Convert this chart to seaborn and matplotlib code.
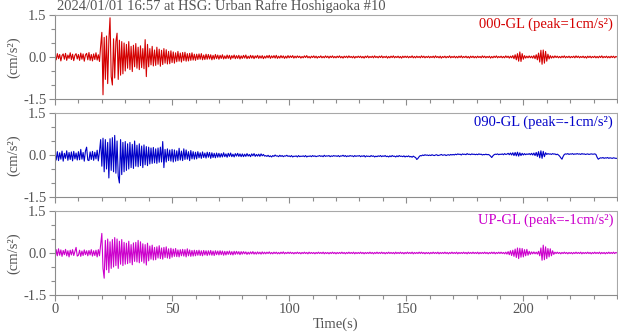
import numpy as np
import pandas as pd
import matplotlib
matplotlib.use("Agg")
import matplotlib.pyplot as plt
import seaborn as sns

# ---------------- data (acceleration, units of 0.01 cm/s^2, dt = 0.5 s) ----------------
dt = 0.5
ns_vals = [
    8,-10,12,-6,9,-14,5,11,-8,13,-12,7,-5,15,-9,10,-13,6,12,-7,
    9,-12,14,-8,11,-15,7,13,-10,16,-12,9,-14,11,-9,15,-11,8,-16,40,
    88,-135,70,-80,75,-95,60,140,-70,-100,65,-75,55,85,-80,60,-65,55,-60,50,
    -50,45,-40,55,-45,38,-52,42,-35,48,-40,35,-45,40,-38,30,-42,62,-70,45,
    -35,30,-28,38,-32,25,-30,35,-26,28,-33,24,-27,30,-22,26,-25,20,-24,22,
    -20,18,-22,15,-17,20,-15,14,-18,16,-13,17,-15,12,-14,13,-12,15,-11,10,
    -12,10,-9,11,-8,12,-10,7,-9,10,-8,9,-7,8,-10,6,-8,9,-6,7,
    -8,6,-5,8,-7,4,-6,7,-5,6,-8,5,-4,7,-6,5,-5,6,-7,4,
    -5,6,-4,7,-6,3,-5,6,-4,5,-6,4,-3,6,-5,4,-4,5,-6,3,
    -4,5,-3,6,-5,4,-3,5,-4,6,-5,3,-4,5,-3,4,-5,3,-4,5,
    -3,4,-2,5,-4,3,-3,4,-2,3,-4,2,-3,4,-2,5,-3,2,-4,3,
    -2,4,-3,3,-4,2,-2,4,-3,2,-3,4,-2,3,-4,3,-2,4,-3,2,
    -3,3,-2,4,-3,2,-4,3,-2,3,-3,4,-2,2,-3,3,-4,2,-2,3,
    -2,3,-3,2,-4,3,-2,4,-3,2,-2,3,-3,4,-2,2,-3,3,-2,4,
    -3,2,-2,3,-4,2,-3,3,-2,4,-3,2,-2,3,-3,2,-4,3,-2,3,
    -2,3,-3,2,-2,4,-3,2,-3,3,-2,2,-3,4,-2,3,-3,2,-2,3,
    -3,2,-2,3,-3,4,-2,2,-3,3,-4,2,-2,3,-3,2,-2,4,-3,2,
    -2,3,-3,2,-3,3,-2,4,-3,2,-2,3,-3,2,-4,3,-2,3,-3,2,
    -3,3,-2,2,-3,4,-2,3,-3,2,-2,3,-4,2,-3,3,-2,4,-3,2,
    -2,3,-3,2,-3,4,-2,3,-4,3,-3,5,-6,8,-10,12,-15,18,-16,12,
    -8,5,-4,3,-3,4,-3,3,-4,5,-6,8,-10,14,-18,24,-26,25,-22,20,
    -15,10,-7,5,-4,3,-3,4,-2,3,-3,2,-3,3,-2,4,-3,2,-2,3,
    -3,2,-2,3,-3,4,-2,3,-3,2,-2,3,-3,2,-4,3,-2,3,-3,2,
    -2,3,-3,2,-3,3,-2,4,-3,2,-2,3,-3,2,-3,3,-2,3,-3,2,
    0,
]
ew_vals = [
    10,-18,12,-20,8,-15,14,-22,6,-12,15,-19,9,-16,11,-21,13,-14,7,-18,
    12,-17,20,-15,9,-22,14,28,-18,-20,11,-16,13,-19,10,-14,17,-21,12,55,
    -40,60,-60,55,-50,45,-82,58,-55,62,-60,70,-65,50,-75,-100,55,-70,45,-60,
    48,-55,40,-50,45,-45,38,-48,50,-40,35,-42,40,-38,32,-45,36,-35,30,-38,
    28,-32,25,-30,27,-28,22,-30,25,-26,28,-25,48,-45,20,-25,22,-20,18,-22,
    20,-25,18,-22,15,-20,24,-18,14,-20,22,-16,18,-15,12,-20,16,-14,12,-15,
    10,-14,12,-10,8,-12,11,-9,7,-11,10,-8,9,-12,8,-9,6,-10,7,-8,
    6,-8,5,-7,8,-6,4,-8,6,-5,7,-6,3,-7,5,-4,6,-5,4,-6,
    4,-6,3,-5,5,-4,2,-6,4,-3,5,-5,2,-4,3,-5,4,-3,2,-4,
    -2,-5,-1,-6,-3,-7,-2,-5,0,-4,-3,-6,-1,-5,-2,-6,-3,-4,-1,-5,
    -3,-6,-2,-7,-4,-5,-3,-7,-2,-6,-4,-5,-3,-6,-2,-7,-4,-5,-3,-6,
    -2,-5,-3,-6,-4,-4,-2,-5,-3,-6,-1,-5,-3,-4,-2,-6,-3,-5,-2,-4,
    -3,-5,-2,-6,-3,-4,-1,-5,-2,-6,-3,-5,-2,-4,-3,-6,-2,-5,-3,-4,
    -2,-6,-3,-5,-2,-7,-3,-5,-4,-6,-2,-5,-3,-7,-4,-6,-3,-5,-2,-6,
    -3,-5,-2,-6,-4,-7,-3,-6,-2,-5,-4,-7,-3,-6,-2,-5,-4,-6,-3,-7,
    -4,-6,-3,-7,-5,-8,-4,-7,-9,-16,-12,-6,-2,-3,0,-2,1,-1,0,-2,
    0,-2,1,-1,-2,0,1,-2,-1,0,2,-1,0,1,-2,0,1,-1,2,0,
    2,0,3,1,4,2,3,0,4,2,3,1,5,2,3,1,4,2,3,1,
    3,1,4,2,3,0,2,1,3,1,2,0,-4,-9,-3,1,3,2,4,1,
    3,2,4,1,5,2,3,6,1,7,0,8,-2,9,-3,10,-4,8,-2,6,
    0,5,1,4,2,5,1,6,0,7,-2,9,-5,12,-10,15,-12,13,-6,8,
    2,5,3,4,2,5,3,4,1,3,0,-4,-10,-15,-5,2,4,3,5,2,
    4,3,5,2,4,3,5,3,4,2,5,3,4,2,3,4,2,3,4,3,
    3,4,2,-8,-15,-12,-10,-11,-9,-12,-10,-11,-9,-12,-10,-11,-12,-10,-11,-12,
    -12,
]
ud_vals = [
    -25,12,-10,15,-8,11,-12,9,-6,13,-10,8,-14,10,-7,12,-9,6,20,-11,
    -8,10,-12,7,-9,11,-6,8,-10,9,-7,12,-11,8,-9,10,-14,12,-10,30,
    70,-55,-90,45,-60,50,-70,40,-55,48,-50,55,-45,50,-55,42,-40,48,-45,38,
    -40,35,-38,42,-35,30,-42,36,-30,38,-32,45,-35,40,-30,33,-36,30,-43,35,
    -28,25,-22,28,-25,20,-24,22,-18,26,-20,18,-22,20,-16,22,-18,15,-20,17,
    -15,14,-12,16,-13,11,-14,12,-10,13,-11,12,-14,15,-10,11,-12,9,-11,10,
    -10,9,-8,10,-9,8,-10,9,-7,8,-9,8,-7,9,-8,7,-9,8,-6,7,
    -7,8,-6,7,-8,6,-7,6,-5,7,-6,5,-7,6,-5,6,-4,5,-6,5,
    -4,5,-3,4,-5,3,-4,4,-3,5,-4,3,-4,4,-3,3,-4,4,-3,3,
    -3,3,-2,4,-3,2,-3,3,-2,3,-3,2,-3,3,-2,4,-3,2,-2,3,
    -2,3,-2,2,-3,2,-2,3,-2,2,-3,2,-2,3,-2,2,-3,3,-2,2,
    -2,2,-3,2,-2,3,-2,2,-2,3,-3,2,-2,2,-3,2,-2,3,-2,2,
    -3,2,-2,2,-2,3,-2,2,-3,2,-2,3,-2,2,-2,3,-3,2,-2,2,
    -2,3,-2,2,-3,2,-2,2,-2,3,-2,2,-3,2,-2,3,-2,2,-2,3,
    -2,2,-3,2,-2,3,-2,2,-2,2,-3,3,-2,2,-2,3,-2,2,-3,2,
    -2,3,-2,2,-2,3,-3,2,-2,2,-2,3,-2,3,-2,2,-3,2,-2,2,
    -3,2,-2,3,-2,2,-2,3,-3,2,-2,2,-2,3,-2,2,-3,2,-2,3,
    -2,2,-2,3,-3,2,-2,2,-2,3,-2,2,-3,3,-2,2,-2,3,-2,2,
    -2,3,-3,2,-2,2,-2,3,-2,2,-3,2,-2,3,-2,3,-3,2,-2,3,
    -2,3,-2,2,-3,3,-4,5,-6,8,-9,10,-12,14,-16,18,-20,17,-15,16,
    -14,12,-10,13,-8,6,-5,4,-3,4,-3,3,-4,6,-10,18,-26,28,-24,22,
    -20,16,-14,15,-10,8,-5,3,-2,3,-2,2,-3,2,-2,3,-2,2,-3,2,
    -2,2,-3,2,-2,3,-2,2,-2,3,-3,2,-2,2,-2,3,-2,2,-3,2,
    -2,3,-2,2,-2,3,-3,2,-2,2,-3,2,-2,3,-2,2,-2,3,-2,2,
    0,
]
channels = ["000-GL", "090-GL", "UP-GL"]
peaks = ["1", "-1", "-1"]
colors = ["#d40000", "#0000c8", "#cc00cc"]
title = "2024/01/01 16:57 at HSG: Urban Rafre Hoshigaoka #10"
xticks = [0, 50, 100, 150, 200]

# ---------------- style ----------------
sns.set_theme(style="ticks")
plt.rcParams["font.family"] = ["Liberation Serif", "DejaVu Serif"]
plt.rcParams["axes.unicode_minus"] = False
txt = "#555555"
spine = "#8c8c8c"
fs = 10.5

fig = plt.figure(figsize=(6.18, 3.34), dpi=100)
L, W, H = 55 / 618, 562 / 618, 84 / 334
tops = [15, 113, 211]
series = [ns_vals, ew_vals, ud_vals]

for i, (vals, ch, pk, col) in enumerate(zip(series, channels, peaks, colors)):
    bottom = 1 - (tops[i] + 84) / 334
    ax = fig.add_axes([L, bottom, W, H])
    v = np.array(vals, dtype=float) / 100.0
    df = pd.DataFrame({"t": np.arange(len(v)) * dt, "a": v})
    sns.lineplot(data=df, x="t", y="a", ax=ax, color=col, lw=0.8,
                 estimator=None, sort=False)
    ax.set_xlim(0, 240)
    ax.set_ylim(-1.5, 1.5)
    ax.set_yticks([-1.5, 0, 1.5])
    ax.set_yticklabels(["-1.5", "0.0", "1.5"])
    ax.set_yticks(np.arange(-1.5, 1.51, 0.5), minor=True)
    ax.set_xticks(np.arange(0, 241, 10), minor=True)
    ax.set_xticks(xticks)
    ax.tick_params(which="major", length=4, width=0.8, color=spine,
                   labelcolor=txt, labelsize=fs, pad=2)
    ax.tick_params(which="minor", length=3, width=0.8, color=spine)
    for s in ax.spines.values():
        s.set_visible(True)
        s.set_color("#a8a8a8")
        s.set_linewidth(0.8)
    ax.spines["left"].set_color(spine)
    ax.spines["bottom"].set_color(spine)
    ax.set_ylabel("(cm/s\u00b2)", color=txt, fontsize=fs)
    ax.yaxis.set_label_coords(-0.062, 0.5)
    if i < 2:
        ax.set_xticklabels([])
        ax.set_xlabel("")
    else:
        ax.set_xticklabels([str(x) for x in xticks])
        ax.set_xlabel("Time(s)", color=txt, fontsize=fs, labelpad=1)
    ax.text(0.993, 0.965, f"{ch} (peak={pk}cm/s\u00b2)", transform=ax.transAxes,
            ha="right", va="top", color=col, fontsize=fs)
    if i == 0:
        ax.text(0.003, 1.025, title, transform=ax.transAxes, ha="left",
                va="bottom", color=txt, fontsize=fs)

fig.savefig("out.png", dpi=100)
